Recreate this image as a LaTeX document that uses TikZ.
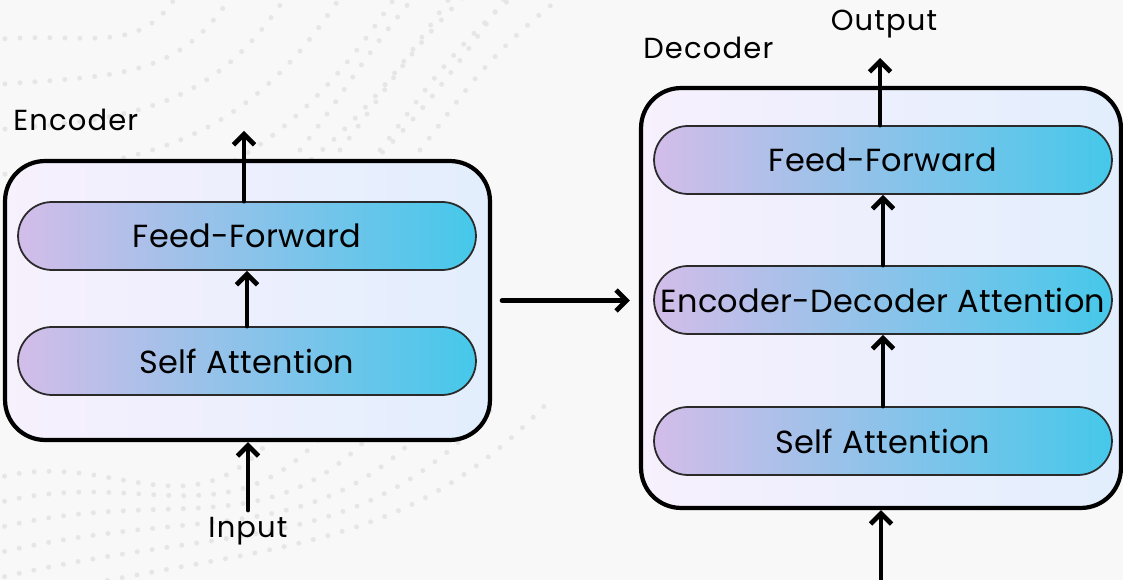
\documentclass[tikz,border=0pt]{standalone}
\usepackage{fontspec}
\setmainfont{Poppins}
\usetikzlibrary{arrows.meta}
\definecolor{bgc}{HTML}{F8F8F8}
\definecolor{dotc}{HTML}{E6E6E6}
\definecolor{pillL}{HTML}{D3BDE9}
\definecolor{pillR}{HTML}{45C8EA}
\definecolor{boxL}{HTML}{F7F0FD}
\definecolor{boxR}{HTML}{E2EEFD}
\definecolor{pillline}{HTML}{2A2A2A}
\tikzset{
  outerbox/.style={draw=black, line width=2.4pt, rounded corners=0.8cm, left color=boxL, right color=boxR, inner sep=0pt},
  pill/.style={draw=pillline, line width=1pt, rounded corners=0.68cm, minimum width=9.16cm, minimum height=1.36cm, left color=pillL, right color=pillR, font=\fontsize{18.2}{21}\selectfont\addfontfeature{LetterSpace=1}, inner sep=0pt},
  lbl/.style={font=\fontsize{16.5}{19}\selectfont\addfontfeature{LetterSpace=4}, inner sep=0pt},
  arr/.style={line width=2.7pt, -{Straight Barb[length=6pt,width=12pt,line width=2.7pt]}, line cap=round},
  dots/.style={dotc, line width=0.1cm, line cap=round, dash pattern=on 0pt off 0.3cm}
}
\begin{document}
\begin{tikzpicture}[x=0.02cm,y=-0.02cm]
\fill[bgc] (0,0) rectangle (1123,580);
\useasboundingbox (0,0) rectangle (1123,580);
% decorative dotted curves
\foreach \i in {0,...,6}{
  \draw[dots] (-10,{40+45*\i}) .. controls ({90+30*\i},{30+45*\i}) and ({140+40*\i},{60+20*\i}) .. ({180+55*\i},-10);
}
\foreach \i in {0,...,5}{
  \draw[dots] (-10,{480+25*\i}) .. controls ({120+30*\i},{440+20*\i}) and ({200+40*\i},{560}) .. ({300+50*\i},400);
}
\foreach \i in {0,...,3}{
  \draw[dots] ({300+40*\i},150) .. controls ({340+40*\i},100) and ({360+40*\i},60) .. ({420+50*\i},-10);
}
% encoder
\node[outerbox, minimum width=9.7cm, minimum height=5.58cm] (enc) at (247.5,300.5) {};
\node[pill] (eff) at (247,236) {Feed-Forward};
\node[pill] (esa) at (247,361) {Self Attention};
\node[lbl, anchor=base west] (enclbl) at (13,131) {Encoder};
\node[lbl, anchor=base] (inlbl) at (248,538) {Input};
\coordinate (encout) at (244,131);
\coordinate (encin) at (248,510);
\draw[arr] (esa.north) -- (eff.south);
\draw[arr] (eff.north -| encout) -- (encout);
\draw[arr] (encin) -- (encin |- enc.south);
% decoder
\node[outerbox, minimum width=9.6cm, minimum height=8.4cm] (dec) at (881,298) {};
\node[pill] (dff) at (883,160) {Feed-Forward};
\node[pill] (dea) at (883,300) {Encoder-Decoder Attention};
\node[pill] (dsa) at (883,441) {Self Attention};
\node[lbl, anchor=base west] (declbl) at (643,59) {Decoder};
\node[lbl, anchor=base] (outlbl) at (884,31) {Output};
\coordinate (decout) at (880,58);
\coordinate (decin) at (881,580);
\draw[arr] (dsa.north) -- (dea.south);
\draw[arr] (dea.north) -- (dff.south);
\draw[arr] (dff.north -| decout) -- (decout);
\draw[arr] (decin) -- (decin |- dec.south);
% link
\draw[arr, shorten <=0.2cm, shorten >=0.18cm] (enc.east) -- (dec.west |- enc.east);
\end{tikzpicture}
\end{document}
